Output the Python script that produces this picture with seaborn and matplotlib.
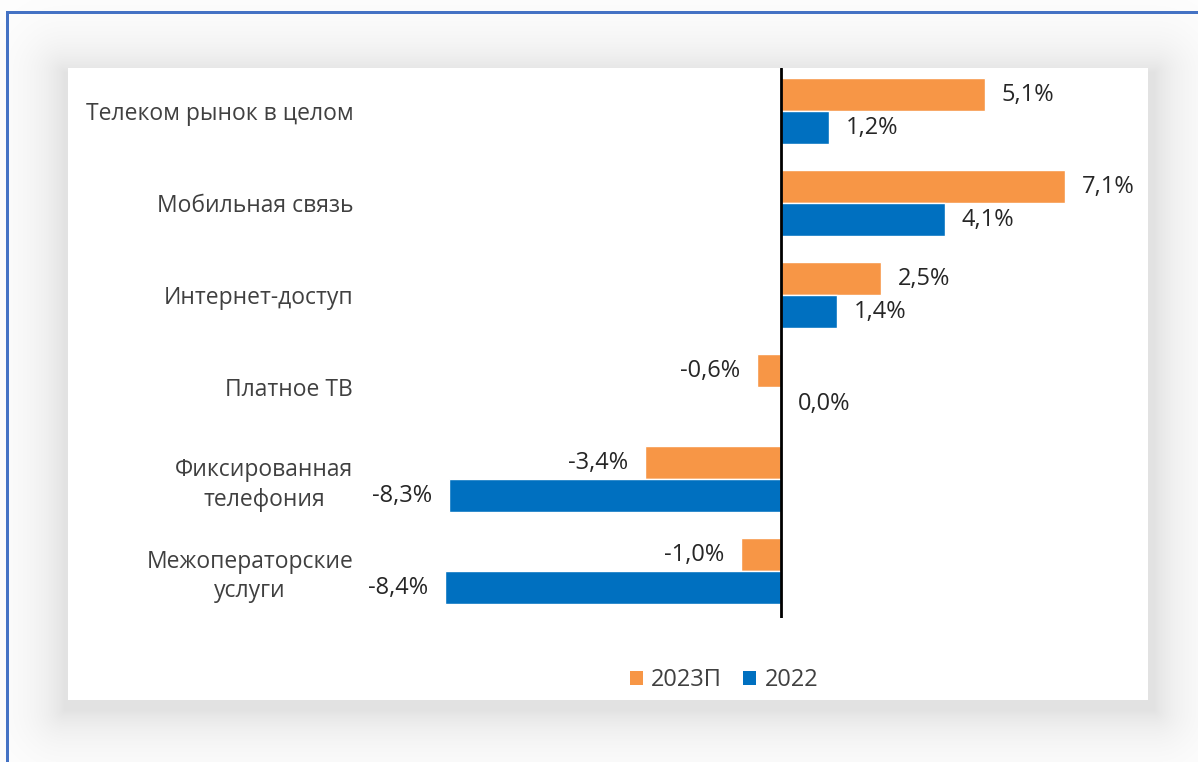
import numpy as np
import pandas as pd
import matplotlib
matplotlib.use("Agg")
import matplotlib.pyplot as plt
import seaborn as sns
from matplotlib.patches import Patch

categories = ["Телеком рынок в целом", "Мобильная связь", "Интернет-доступ",
              "Платное ТВ", "Фиксированная\nтелефония", "Межоператорские\nуслуги"]
series_names = ["2023П", "2022"]
values_2023p = [5.1, 7.1, 2.5, -0.6, -3.4, -1.0]
values_2022 = [1.2, 4.1, 1.4, 0.0, -8.3, -8.4]

colors = ["#F79646", "#0070C0"]
text_color = "#404040"

sns.set_theme(style="white")
plt.rcParams['font.family'] = ['Open Sans', 'DejaVu Sans']

df = pd.DataFrame({
    "category": categories * 2,
    "series": [series_names[0]] * len(categories) + [series_names[1]] * len(categories),
    "value": values_2023p + values_2022,
})

W, H = 1198, 762
fig = plt.figure(figsize=(W / 100, H / 100), dpi=100)

# background: shadowed panel and blue frame
bg = fig.add_axes([0, 0, 1, 1], zorder=0)
yy, xx = np.mgrid[0:H, 0:W].astype(float)
px0, px1, py0, py1 = 68, 1148, 68, 700
sx0, sx1, sy0, sy1 = px0 - 4, px1 + 6, py0 + 4, py1 + 10
dx = np.maximum(np.maximum(sx0 - xx, xx - sx1), 0)
dy = np.maximum(np.maximum(sy0 - yy, yy - sy1), 0)
dist = np.sqrt(dx ** 2 + dy ** 2)
shade = 0.11 * np.exp(-dist / 30.0)
img = np.ones((H, W, 3)) * (1 - shade)[..., None]
img[py0:py1, px0:px1] = 1.0
border = np.array([0x44, 0x72, 0xC4]) / 255
img[11:14, 6:] = border
img[11:, 6:9] = border
bg.imshow(img, extent=[0, W, H, 0], interpolation="nearest", aspect="auto")
bg.set_xlim(0, W)
bg.set_ylim(H, 0)
bg.axis("off")

ax = fig.add_axes([381 / W, 1 - 618 / H, 760 / W, 550 / H], zorder=1)
ax.set_facecolor("none")
sns.barplot(data=df, y="category", x="value", hue="series", orient="h",
            palette=colors, width=0.72, saturation=1, ax=ax, legend=False)

ax.set_xlim(-10.0, 9.0)
ax.set_ylim(5.51, -0.47)
for s in ax.spines.values():
    s.set_visible(False)
ax.axvline(0, color="black", lw=2, zorder=3)
ax.set_xticks([])
ax.set_xlabel("")
ax.set_ylabel("")
ax.tick_params(axis="y", length=0, pad=20, labelsize=16.5, labelcolor=text_color)
for lbl in ax.get_yticklabels():
    lbl.set_multialignment("center")
    lbl.set_linespacing(1.3)

for cont, vals in zip(ax.containers, [values_2023p, values_2022]):
    labels = [f"{v:.1f}%".replace(".", ",") for v in vals]
    ax.bar_label(cont, labels=labels, padding=12, fontsize=17, color="#262626")

handles = [Patch(facecolor=c, edgecolor="none") for c in colors]
fig.legend(handles, series_names, loc="center", bbox_to_anchor=(724 / W, 1 - 680 / H),
           ncol=2, frameon=False, fontsize=17, handlelength=0.55, handleheight=0.55,
           handletextpad=0.35, columnspacing=0.9, labelcolor=text_color)

fig.savefig("out.png", dpi=100)
